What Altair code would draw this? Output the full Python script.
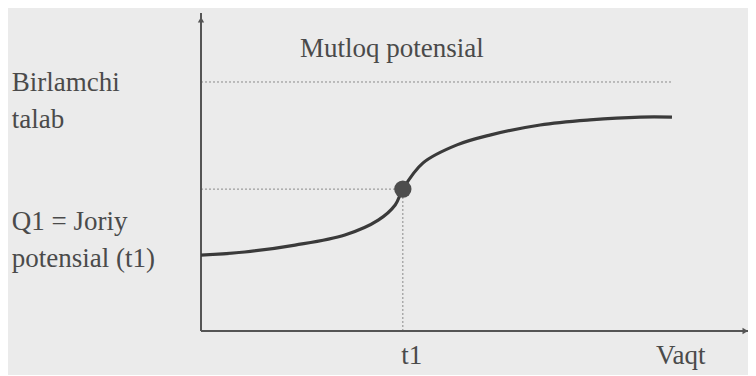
import altair as alt
import pandas as pd

# curve (time, demand), abstract units 0..10
curve_t = [0.0, 0.80, 1.72, 2.63, 3.24, 3.55, 3.69, 4.06, 4.68, 5.28, 6.20, 7.11, 8.03, 8.61]
curve_q = [2.40, 2.50, 2.72, 3.04, 3.51, 3.99, 4.49, 5.32, 5.89, 6.20, 6.52, 6.68, 6.77, 6.77]

t1 = 3.69
q1 = 4.49
top_potential = 7.88
t_end = 8.61

label_text = ["Mutloq potensial", "Birlamchi", "talab", "Q1 = Joriy", "potensial (t1)", "t1", "Vaqt"]
label_x = [1.81, -3.46, -3.46, -3.46, -3.46, 3.66, 8.32]
label_y = [8.67, 7.59, 6.42, 3.20, 2.03, -1.04, -1.04]

xs = alt.Scale(domain=[0, 10], nice=False, zero=False)
ys = alt.Scale(domain=[0, 10], nice=False, zero=False)


def X(f):
    return alt.X(f, type="quantitative", scale=xs, axis=None)


def Y(f):
    return alt.Y(f, type="quantitative", scale=ys, axis=None)


curve = alt.Chart(pd.DataFrame({"t": curve_t, "q": curve_q})).mark_line(
    color="#3a3a3a", strokeWidth=3.2, interpolate="catmull-rom"
).encode(x=X("t"), y=Y("q"))

pt = alt.Chart(pd.DataFrame({"t": [t1], "q": [q1]})).mark_point(
    filled=True, color="#4d4d4d", size=300, opacity=1
).encode(x=X("t"), y=Y("q"))

guides = pd.DataFrame({
    "x": [0, 0, t1],
    "x2": [t_end, t1, t1],
    "y": [top_potential, q1, 0],
    "y2": [top_potential, q1, q1],
})
dotted = alt.Chart(guides).mark_rule(color="#8a8a8a", strokeWidth=1, strokeDash=[2, 2]).encode(
    x=X("x"), x2="x2", y=Y("y"), y2="y2"
)

axes_df = pd.DataFrame({"x": [0, 0], "x2": [0, 10], "y": [0, 0], "y2": [10.06, 0]})
axes = alt.Chart(axes_df).mark_rule(color="#555555", strokeWidth=2).encode(
    x=X("x"), x2="x2", y=Y("y"), y2="y2"
)

arrow_up = alt.Chart(pd.DataFrame({"x": [0], "y": [9.85]})).mark_point(
    shape="triangle-up", filled=True, color="#555555", size=40, opacity=1
).encode(x=X("x"), y=Y("y"))
arrow_right = alt.Chart(pd.DataFrame({"x": [9.95], "y": [0]})).mark_point(
    shape="triangle-right", filled=True, color="#555555", size=40, opacity=1
).encode(x=X("x"), y=Y("y"))

labels = alt.Chart(pd.DataFrame({"text": label_text, "x": label_x, "y": label_y})).mark_text(
    align="left", baseline="alphabetic", font="'Liberation Serif', 'DejaVu Serif', serif",
    fontSize=27, color="#4a4a4a"
).encode(x=X("x"), y=Y("y"), text="text:N")

chart = alt.layer(dotted, axes, arrow_up, arrow_right, curve, pt, labels).properties(
    width=547, height=316,
    padding={"left": 193, "top": 7, "right": 0, "bottom": 44},
    autosize=alt.AutoSizeParams(type="none"),
    background="#ebebeb",
).configure_view(stroke=None)

chart.save("out.html", embed_options={"renderer": "svg", "actions": False})
